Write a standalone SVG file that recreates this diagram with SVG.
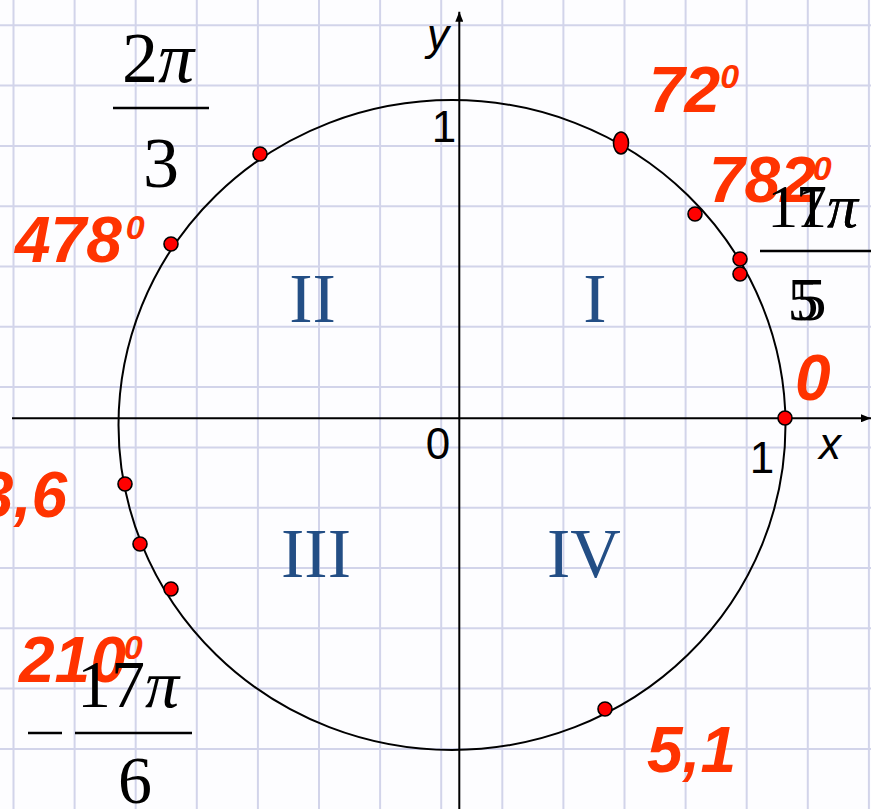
<svg xmlns="http://www.w3.org/2000/svg" width="871" height="809" viewBox="0 0 871 809">
<defs>
<style>
.grid line{stroke:#d2d4ea;stroke-width:2}
.ax{stroke:#000;stroke-width:2;fill:none}
.dot{fill:#ff0000;stroke:#000;stroke-width:1.6}
.red{font-family:"Liberation Sans",Arial,sans-serif;font-weight:bold;font-style:italic;fill:#ff3300;font-size:64px}
.sup{font-size:34px}
.math{font-family:"Liberation Serif","Times New Roman",serif;fill:#000}
.pi{font-style:italic}
.rom{font-family:"Liberation Serif","Times New Roman",serif;fill:#234e85;font-size:70px;text-anchor:middle}
.lab{font-family:"Liberation Sans",Arial,sans-serif;fill:#000;font-size:44px;text-anchor:middle}
.fl{stroke:#000;stroke-width:2.5}
</style>
<marker id="arr" viewBox="0 0 10 8" refX="10" refY="4" markerWidth="10" markerHeight="8" markerUnits="userSpaceOnUse" orient="auto">
<path d="M0,0 L10,4 L0,8 Z" fill="#000"/>
</marker>
</defs>
<rect width="871" height="809" fill="#fdfdff"/>
<g id="grid" class="grid">
<line x1="13.5" y1="0" x2="13.5" y2="809"/>
<line x1="74.6" y1="0" x2="74.6" y2="809"/>
<line x1="135.7" y1="0" x2="135.7" y2="809"/>
<line x1="196.8" y1="0" x2="196.8" y2="809"/>
<line x1="257.9" y1="0" x2="257.9" y2="809"/>
<line x1="319" y1="0" x2="319" y2="809"/>
<line x1="380.1" y1="0" x2="380.1" y2="809"/>
<line x1="441.2" y1="0" x2="441.2" y2="809"/>
<line x1="502.3" y1="0" x2="502.3" y2="809"/>
<line x1="563.4" y1="0" x2="563.4" y2="809"/>
<line x1="624.5" y1="0" x2="624.5" y2="809"/>
<line x1="685.6" y1="0" x2="685.6" y2="809"/>
<line x1="746.7" y1="0" x2="746.7" y2="809"/>
<line x1="807.8" y1="0" x2="807.8" y2="809"/>
<line x1="868.9" y1="0" x2="868.9" y2="809"/>
<line x1="0" y1="25.3" x2="871" y2="25.3"/>
<line x1="0" y1="85.6" x2="871" y2="85.6"/>
<line x1="0" y1="145.9" x2="871" y2="145.9"/>
<line x1="0" y1="206.2" x2="871" y2="206.2"/>
<line x1="0" y1="266.5" x2="871" y2="266.5"/>
<line x1="0" y1="326.8" x2="871" y2="326.8"/>
<line x1="0" y1="387.1" x2="871" y2="387.1"/>
<line x1="0" y1="447.4" x2="871" y2="447.4"/>
<line x1="0" y1="507.7" x2="871" y2="507.7"/>
<line x1="0" y1="568" x2="871" y2="568"/>
<line x1="0" y1="628.3" x2="871" y2="628.3"/>
<line x1="0" y1="688.6" x2="871" y2="688.6"/>
<line x1="0" y1="748.9" x2="871" y2="748.9"/>
</g>
<g id="connectors">
<line class="ax" x1="12" y1="418.3" x2="871" y2="418.3" marker-end="url(#arr)"/>
<line class="ax" x1="459.3" y1="809" x2="459.3" y2="11.7" marker-end="url(#arr)"/>
<ellipse id="circle" class="ax" cx="452" cy="425" rx="333.5" ry="325"/>
</g>
<g id="axis-labels">
<text class="lab" x="444" y="142">1</text>
<text class="lab" x="438" y="459">0</text>
<text class="lab" x="762" y="473">1</text>
<text class="lab" x="830" y="459" font-style="italic">x</text>
<text class="lab" x="438" y="50" font-style="italic">y</text>
</g>
<g id="quadrants">
<text class="rom" x="312.5" y="322">II</text>
<text class="rom" x="595" y="322">I</text>
<text class="rom" x="316" y="577">III</text>
<text class="rom" x="584" y="577">IV</text>
</g>
<g id="points">
<circle class="dot" cx="260" cy="154" r="7"/>
<circle class="dot" cx="171" cy="244" r="7"/>
<ellipse class="dot" cx="621" cy="143" rx="7.5" ry="11"/>
<circle class="dot" cx="695" cy="214" r="7"/>
<circle class="dot" cx="740" cy="259" r="7"/>
<circle class="dot" cx="740" cy="274" r="7"/>
<circle class="dot" cx="785" cy="418" r="7"/>
<circle class="dot" cx="125" cy="484" r="7"/>
<circle class="dot" cx="140" cy="544" r="7"/>
<circle class="dot" cx="171" cy="589" r="7"/>
<circle class="dot" cx="605" cy="709" r="7"/>
</g>
<g id="red-labels">
<text class="red" x="15" y="262">478<tspan class="sup" dx="4" dy="-23">0</tspan></text>
<text class="red" x="649" y="112">72<tspan class="sup" dx="0" dy="-24">0</tspan></text>
<text class="red" x="709" y="202">782<tspan class="sup" dx="-3" dy="-22">0</tspan></text>
<text class="red" x="795" y="400">0</text>
<text class="red" x="647" y="772">5,1</text>
<text class="red" x="67" y="517" text-anchor="end">3,6</text>
<text class="red" x="19" y="682">210<tspan class="sup" dx="-2" dy="-23">0</tspan></text>
</g>
<g id="frac-2pi-3" class="math">
<text x="158" y="82" font-size="72" text-anchor="middle">2<tspan class="pi">π</tspan></text>
<line class="fl" x1="113" y1="108" x2="209" y2="108"/>
<text x="161" y="187" font-size="72" text-anchor="middle">3</text>
</g>
<g id="frac-11pi-5" class="math">
<text x="858" y="227" font-size="62" text-anchor="end">11<tspan class="pi">π</tspan></text>
<text x="858" y="227" font-size="62" text-anchor="end">7<tspan class="pi">π</tspan></text>
<line class="fl" x1="760" y1="251" x2="871" y2="251"/>
<text x="803" y="320" font-size="62" text-anchor="middle">5</text>
<text x="811" y="320" font-size="62" text-anchor="middle">5</text>
</g>
<g id="frac-m17pi-6" class="math">
<line class="fl" x1="28" y1="733" x2="62" y2="733"/>
<text x="128" y="707" font-size="68" text-anchor="middle">17<tspan class="pi">π</tspan></text>
<line class="fl" x1="75" y1="733" x2="192" y2="733"/>
<text x="135" y="803" font-size="68" text-anchor="middle">6</text>
</g>
</svg>
